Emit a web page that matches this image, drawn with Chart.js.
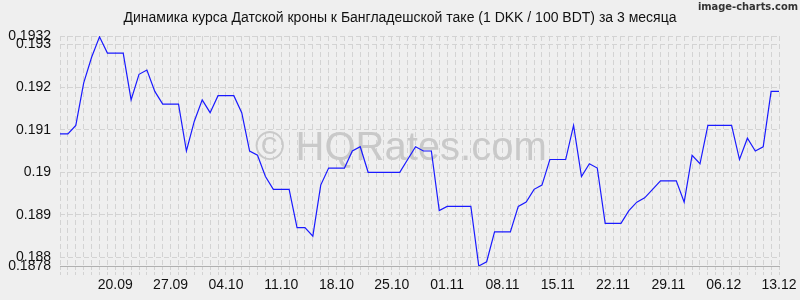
<!DOCTYPE html>
<html>
<head>
<meta charset="utf-8">
<script src="https://cdn.jsdelivr.net/npm/chart.js@4"></script>
<style>
  html, body { margin: 0; padding: 0; background: #efefef; }
  #wrap { width: 800px; height: 300px; }
</style>
</head>
<body>
<div id="wrap"><canvas id="chart" width="800" height="300"></canvas></div>
<script>
// Курс DKK/BDT (1 DKK / 100 BDT), 13.09 - 13.12
const dates = [
  '13.09','14.09','15.09','16.09','17.09','18.09','19.09','20.09','21.09','22.09','23.09','24.09','25.09','26.09','27.09','28.09','29.09','30.09',
  '01.10','02.10','03.10','04.10','05.10','06.10','07.10','08.10','09.10','10.10','11.10','12.10','13.10','14.10','15.10','16.10','17.10','18.10',
  '19.10','20.10','21.10','22.10','23.10','24.10','25.10','26.10','27.10','28.10','29.10','30.10','31.10',
  '01.11','02.11','03.11','04.11','05.11','06.11','07.11','08.11','09.11','10.11','11.11','12.11','13.11','14.11','15.11','16.11','17.11','18.11',
  '19.11','20.11','21.11','22.11','23.11','24.11','25.11','26.11','27.11','28.11','29.11','30.11',
  '01.12','02.12','03.12','04.12','05.12','06.12','07.12','08.12','09.12','10.12','11.12','12.12','13.12'
];

const rates = [
  0.1909, 0.1909, 0.1911, 0.1921, 0.1927, 0.19318, 0.1928, 0.1928, 0.1928, 0.1917,
  0.1923, 0.1924, 0.1919, 0.1916, 0.1916, 0.1916, 0.1905, 0.1912, 0.1917, 0.1914,
  0.1918, 0.1918, 0.1918, 0.1914, 0.1905, 0.1904, 0.1899, 0.1896, 0.1896, 0.1896,
  0.1887, 0.1887, 0.1885, 0.1897, 0.1901, 0.1901, 0.1901, 0.1905, 0.1906, 0.1900,
  0.1900, 0.1900, 0.1900, 0.1900, 0.1903, 0.1906, 0.1905, 0.1905, 0.1891, 0.1892,
  0.1892, 0.1892, 0.1892, 0.1878, 0.1879, 0.1886, 0.1886, 0.1886, 0.1892, 0.1893,
  0.1896, 0.1897, 0.1903, 0.1903, 0.1903, 0.1911, 0.1899, 0.1902, 0.1901, 0.1888,
  0.1888, 0.1888, 0.1891, 0.1893, 0.1894, 0.1896, 0.1898, 0.1898, 0.1898, 0.1893,
  0.1904, 0.1902, 0.1911, 0.1911, 0.1911, 0.1911, 0.1903, 0.1908, 0.1905, 0.1906,
  0.1919, 0.1919
];

const xTickLabels = ['20.09','27.09','04.10','11.10','18.10','25.10','01.11','08.11','15.11','22.11','29.11','06.12','13.12'];
const yTicks = [0.1878, 0.188, 0.189, 0.19, 0.191, 0.192, 0.193, 0.1932];

const titleText = 'Динамика курса Датской кроны к Бангладешской таке (1 DKK / 100 BDT) за 3 месяца';
const FONT = "'Liberation Sans', Arial, sans-serif";
const GRID = '#d3d3d3';

// title, watermark, signature
const decorations = {
    id: 'decorations',
    beforeDatasetsDraw(chart) {
        const ctx = chart.ctx;
        ctx.save();
        ctx.font = '40px ' + FONT;
        ctx.fillStyle = '#c9c9c9';
        ctx.textAlign = 'left';
        ctx.textBaseline = 'alphabetic';
        ctx.fillText('© HQRates.com', 255, 160);
        ctx.restore();
    },
    afterDraw(chart) {
        const ctx = chart.ctx;
        ctx.save();
        ctx.font = '14px ' + FONT;
        ctx.fillStyle = '#111';
        ctx.textAlign = 'center';
        ctx.textBaseline = 'middle';
        ctx.fillText(titleText, 400, 18);
        ctx.font = "bold 11px 'Liberation Sans Narrow', 'DejaVu Sans Condensed', sans-serif";
        ctx.fillStyle = '#333';
        ctx.textAlign = 'right';
        ctx.fillText('image-charts.com', 798, 7);
        ctx.restore();
    }
};

new Chart(document.getElementById('chart'), {
    type: 'line',
    data: {
        labels: dates,
        datasets: [{
            data: rates,
            borderColor: '#1a1aff',
            borderWidth: 1.2,
            pointRadius: 0,
            tension: 0,
            fill: false
        }]
    },
    options: {
        responsive: false,
        animation: false,
        layout: { padding: { top: 36, right: 21, left: 0, bottom: 0 } },
        plugins: {
            legend: { display: false },
            tooltip: { enabled: false }
        },
        scales: {
            x: {
                type: 'category',
                offset: false,
                afterFit: (scale) => { scale.height = 34; },
                grid: {
                    color: GRID,
                    lineWidth: 1,
                    tickLength: 9,
                    tickColor: GRID,
                    tickBorderDash: [3, 2]
                },
                border: { display: true, color: '#b0b0b0', width: 1, dash: [5, 3] },
                ticks: {
                    autoSkip: false,
                    maxRotation: 0,
                    padding: 2,
                    color: '#111',
                    font: { family: FONT, size: 14 },
                    callback: function(val, idx) {
                        const l = dates[idx];
                        return xTickLabels.includes(l) ? l : '';
                    }
                }
            },
            y: {
                type: 'linear',
                min: 0.1878,
                max: 0.1932,
                afterBuildTicks: (scale) => { scale.ticks = yTicks.map(v => ({ value: v })); },
                afterFit: (scale) => { scale.width = 60; },
                grid: {
                    color: GRID,
                    lineWidth: 1,
                    drawTicks: false
                },
                border: { display: false, dash: [5, 3] },
                ticks: {
                    padding: 9,
                    color: '#111',
                    font: { family: FONT, size: 14 },
                    callback: (v) => String(parseFloat(Number(v).toFixed(4)))
                }
            }
        }
    },
    plugins: [decorations]
});
</script>
</body>
</html>
